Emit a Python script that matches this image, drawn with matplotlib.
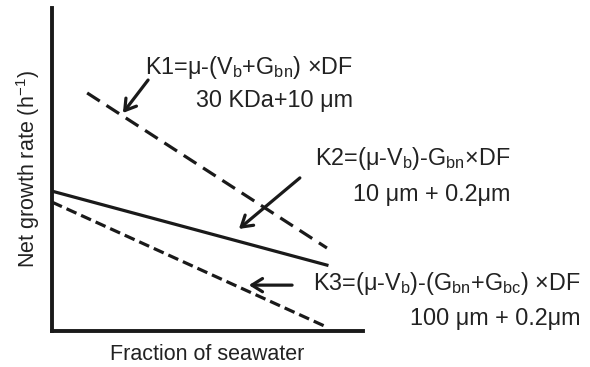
import matplotlib
matplotlib.use("Agg")
import matplotlib.pyplot as plt

plt.rcParams['font.family'] = ['Liberation Sans', 'DejaVu Sans']
plt.rcParams['mathtext.fontset'] = 'custom'
plt.rcParams['mathtext.rm'] = 'Liberation Sans'
plt.rcParams['mathtext.it'] = 'Liberation Sans:italic'
plt.rcParams['mathtext.bf'] = 'Liberation Sans:bold'

# ---- data (fraction of seawater vs. net growth rate, arbitrary units) ----
k1_x = [0.113, 0.884]
k1_y = [0.737, 0.257]
k2_x = [0.0, 0.884]
k2_y = [0.433, 0.204]
k3_x = [0.0, 0.884]
k3_y = [0.399, 0.012]

k1_label = [r"K1=μ-(V$_{\mathrm{b}}$+G$_{\mathrm{bn}}$) ×DF", "30 KDa+10 μm"]
k2_label = [r"K2=(μ-V$_{\mathrm{b}}$)-G$_{\mathrm{bn}}$×DF", "10 μm + 0.2μm"]
k3_label = [r"K3=(μ-V$_{\mathrm{b}}$)-(G$_{\mathrm{bn}}$+G$_{\mathrm{bc}}$) ×DF", "100 μm + 0.2μm"]

xlabel = "Fraction of seawater"
ylabel = r"Net growth rate (h$^{\mathrm{-1}}$)"

ink = "#1a1a1a"
txt = "#222222"

fig = plt.figure(figsize=(5.9, 3.67), dpi=100)
ax = fig.add_axes([52/590, 36/367, 311/590, 323/367])
ax.set_xlim(0, 1)
ax.set_ylim(0, 1)

for s in ['top', 'right']:
    ax.spines[s].set_visible(False)
for s in ['left', 'bottom']:
    ax.spines[s].set_linewidth(2.8)
    ax.spines[s].set_color(ink)
    ax.spines[s].set_capstyle('projecting')
ax.set_xticks([])
ax.set_yticks([])

ax.plot(k1_x, k1_y, color=ink, lw=2.3, linestyle=(0, (4.7, 2.5)), dash_capstyle='butt')
ax.plot(k2_x, k2_y, color=ink, lw=2.3, linestyle='-')
ax.plot(k3_x, k3_y, color=ink, lw=2.3, linestyle=(0, (3.4, 1.6)), dash_capstyle='butt')

arrow = dict(arrowstyle='->,head_length=0.45,head_width=0.28', lw=2.3,
             color=ink, shrinkA=0, shrinkB=0, mutation_scale=17)
ax.annotate('', xy=(0.228, 0.675), xytext=(0.309, 0.777), arrowprops=arrow, annotation_clip=False)
ax.annotate('', xy=(0.601, 0.316), xytext=(0.797, 0.474), arrowprops=arrow, annotation_clip=False)
ax.annotate('', xy=(0.633, 0.142), xytext=(0.772, 0.142), arrowprops=arrow, annotation_clip=False)

fs = 16.8
ax.text(0.968, 0.797, k1_label[0], ha='right', va='baseline', fontsize=fs, color=txt)
ax.text(0.968, 0.693, k1_label[1], ha='right', va='baseline', fontsize=fs, color=txt)
ax.text(1.473, 0.514, k2_label[0], ha='right', va='baseline', fontsize=fs, color=txt)
ax.text(1.473, 0.403, k2_label[1], ha='right', va='baseline', fontsize=fs, color=txt)
ax.text(1.698, 0.127, k3_label[0], ha='right', va='baseline', fontsize=fs, color=txt)
ax.text(1.698, 0.0186, k3_label[1], ha='right', va='baseline', fontsize=fs, color=txt)

ax.set_xlabel(xlabel, fontsize=15.5, color=txt)
ax.xaxis.set_label_coords(0.5, -0.04)
ax.set_ylabel(ylabel, fontsize=15.5, color=txt)
ax.yaxis.set_label_coords(-0.077, 0.5)
ax.yaxis.label.set_verticalalignment('center')

fig.savefig("out.png", dpi=100)
